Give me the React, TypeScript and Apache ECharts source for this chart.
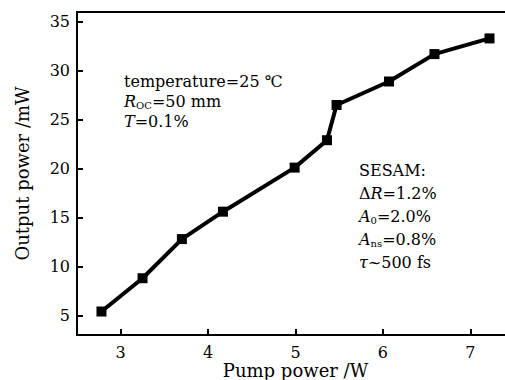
import React, { useEffect, useRef } from "react";
import * as echarts from "echarts";

const pumpPower = [2.78, 3.25, 3.7, 4.17, 4.99, 5.36, 5.47, 6.07, 6.59, 7.22];
const outputPower = [5.4, 8.8, 12.8, 15.6, 20.1, 22.9, 26.5, 28.9, 31.7, 33.3];
const xTicks = [3, 4, 5, 6, 7];
const yTicks = [5, 10, 15, 20, 25, 30, 35];

const FONT = "DejaVu Serif";

function makeRich(lh: number) {
  return {
    n: { fontFamily: FONT, fontSize: 16, color: "#000", lineHeight: lh, verticalAlign: "middle" },
    i: { fontFamily: FONT, fontSize: 16, fontStyle: "italic", color: "#000", lineHeight: lh, verticalAlign: "middle" },
    s: { fontFamily: FONT, fontSize: 10, color: "#000", lineHeight: 10, verticalAlign: "middle", padding: [8, 0, 0, 0] },
  };
}

export default function App() {
  const ref = useRef<HTMLDivElement>(null);
  useEffect(() => {
    if (!ref.current) return;
    const chart = echarts.init(ref.current, null, { renderer: "svg" });
    chart.setOption({
      animation: false,
      grid: {
        left: 77,
        top: 12,
        bottom: 45,
        width: 437,
        containLabel: false,
        outerBoundsMode: "none",
        show: true,
        borderColor: "#000",
        borderWidth: 2,
      },
      xAxis: {
        type: "value",
        min: 2.5,
        max: 7.5,
        name: "Pump power /W",
        nameLocation: "middle",
        nameGap: 26,
        nameMoveOverlap: false,
        nameTextStyle: { fontFamily: FONT, fontSize: 18, lineHeight: 18, color: "#000" },
        axisLine: { lineStyle: { color: "#000", width: 2 } },
        axisTick: { inside: true, length: 6, lineStyle: { color: "#000", width: 2 }, customValues: xTicks },
        axisLabel: { fontFamily: FONT, fontSize: 16, lineHeight: 16, color: "#000", margin: 9, customValues: xTicks },
        splitLine: { show: false },
      },
      yAxis: {
        type: "value",
        min: 3,
        max: 36,
        name: "Output power /mW",
        nameLocation: "middle",
        nameGap: 46,
        nameMoveOverlap: false,
        nameTextStyle: { fontFamily: FONT, fontSize: 18, color: "#000" },
        axisLine: { lineStyle: { color: "#000", width: 2 } },
        axisTick: { inside: true, length: 6, lineStyle: { color: "#000", width: 2 }, customValues: yTicks },
        axisLabel: { fontFamily: FONT, fontSize: 16, color: "#000", margin: 7, customValues: yTicks },
        splitLine: { show: false },
      },
      series: [
        {
          type: "line",
          data: pumpPower.map((x, i) => [x, outputPower[i]]),
          symbol: "rect",
          symbolSize: 10,
          lineStyle: { color: "#000", width: 4 },
          itemStyle: { color: "#000" },
        },
      ],
      graphic: [
        {
          type: "text",
          left: 124,
          top: 73,
          style: {
            text: "{n|temperature=25 ℃}\n{i|R}{s|OC}{n|=50 mm}\n{i|T}{n|=0.1%}",
            rich: makeRich(20),
            fill: "#000",
          },
        },
        {
          type: "text",
          left: 359,
          top: 162,
          style: {
            text: "{n|SESAM:}\n{n|Δ}{i|R}{n|=1.2%}\n{i|A}{s|0}{n|=2.0%}\n{i|A}{s|ns}{n|=0.8%}\n{i|τ}{n|~500 fs}",
            rich: makeRich(23),
            fill: "#000",
          },
        },
      ],
    });
    return () => chart.dispose();
  }, []);
  return <div ref={ref} style={{ width: 505, height: 380, position: "absolute", left: 0, top: 0 }} />;
}
